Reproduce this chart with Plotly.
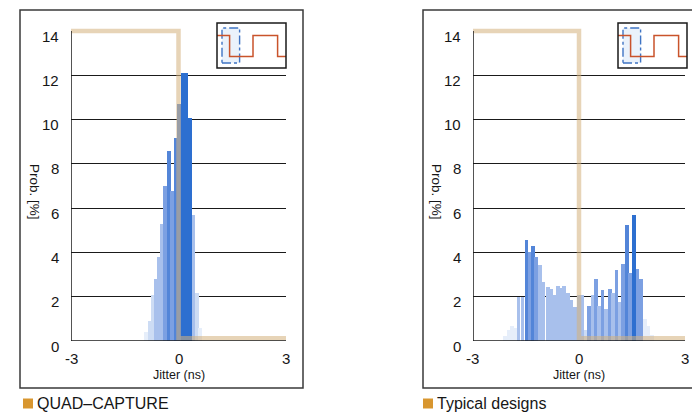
import plotly.graph_objects as go

# ---------------- data ----------------
DARK = "#2d6fd0"
MED = "#5385d8"
MEDL = "#7ca0e2"
LIGHT = "#a8c0ec"
FAINT = "#cddcf4"
VFAINT = "#e6eefa"

# QUAD-CAPTURE jitter histogram
quad_x = [-0.90, -0.81, -0.73, -0.64, -0.56, -0.47, -0.38, -0.27, -0.18, -0.08,
          0.01, 0.12, 0.22, 0.32, 0.42, 0.51, 0.60]
quad_y = [0.4, 0.9, 2.1, 2.8, 3.8, 5.3, 7.0, 8.6, 6.8, 9.2,
          10.7, 12.1, 12.1, 10.1, 5.7, 2.2, 0.6]
quad_c = [VFAINT, FAINT, FAINT, LIGHT, LIGHT, LIGHT, MEDL, MED, MEDL, MED,
          MED, DARK, DARK, DARK, LIGHT, FAINT, VFAINT]

# Typical designs jitter histogram
typ_x = [-2.10, -2.00, -1.90, -1.80, -1.71, -1.60, -1.49, -1.40, -1.30, -1.21,
         -1.11, -1.00, -0.88, -0.78, -0.68, -0.59, -0.51, -0.42, -0.31, -0.21,
         -0.11, 0.00, 0.08, 0.20, 0.29, 0.39, 0.48, 0.57, 0.67, 0.77,
         0.87, 0.96, 1.06, 1.16, 1.25, 1.36, 1.45, 1.55, 1.65, 1.75,
         1.87, 1.97, 2.07]
typ_y = [0.25, 0.5, 0.7, 0.6, 2.0, 2.0, 4.56, 4.03, 4.3, 3.8,
         3.43, 2.68, 2.45, 2.35, 2.08, 2.5, 2.4, 2.5, 2.17, 1.85,
         1.55, 2.1, 2.08, 0.5, 1.58, 2.1, 2.83, 1.58, 2.33, 1.47,
         2.37, 2.18, 3.2, 1.78, 3.5, 5.24, 3.07, 5.69, 3.28, 2.83,
         1.0, 0.7, 0.3]
typ_c = [VFAINT, VFAINT, VFAINT, VFAINT, LIGHT, LIGHT, MED, MEDL, MED, MEDL,
         LIGHT, LIGHT, LIGHT, LIGHT, LIGHT, LIGHT, LIGHT, LIGHT, LIGHT, LIGHT,
         LIGHT, LIGHT, LIGHT, FAINT, MEDL, LIGHT, MEDL, LIGHT, MEDL, LIGHT,
         MEDL, LIGHT, MEDL, LIGHT, MEDL, MED, MEDL, DARK, MEDL, MEDL,
         VFAINT, VFAINT, VFAINT]

# threshold step (tan)
step_x = [-3, 0, 0, 3]
step_y = [14, 14, 0.12, 0.12]

y_ticks = [0, 2, 4, 6, 8, 10, 12, 14]
x_ticks = [-3, 0, 3]
grid_vals = [2, 4, 6, 8, 10, 12]
panel_names = ["QUAD\u2013CAPTURE", "Typical designs"]

# ---------------- figure ----------------
W, H = 692, 412
def PX(px):
    return px / W
def PY(py):
    return 1 - py / H

FONT = "Arial, Liberation Sans, sans-serif"
TXT = "#161616"
BAR_W = 0.1
STEP_COLOR = "rgba(212,176,124,0.55)"

fig = go.Figure()

panels = [
    dict(xa="x", ya="y", bx=quad_x, by=quad_y, bc=quad_c),
    dict(xa="x2", ya="y2", bx=typ_x, by=typ_y, bc=typ_c),
]
for p in panels:
    fig.add_trace(go.Bar(x=p["bx"], y=p["by"], width=BAR_W,
                         marker=dict(color=p["bc"], line=dict(width=0)),
                         xaxis=p["xa"], yaxis=p["ya"], showlegend=False,
                         hoverinfo="x+y"))
    fig.add_trace(go.Scatter(x=step_x, y=step_y, mode="lines",
                             line=dict(color=STEP_COLOR, width=4.5),
                             xaxis=p["xa"], yaxis=p["ya"], showlegend=False,
                             hoverinfo="skip"))

y_domain = [PY(341), PY(341 - 14.6 * (310 / 14))]
x_domains = [[PX(71), PX(286)], [PX(473), PX(685)]]

common_x = dict(range=[-3, 3], showgrid=False, zeroline=False,
                showticklabels=False, showline=False, ticks="", fixedrange=True)
common_y = dict(range=[0, 14.6], tickvals=grid_vals, showgrid=True,
                gridcolor="#1a1a1a", gridwidth=1.3, zeroline=False,
                showticklabels=False, showline=False, ticks="", fixedrange=True)

fig.update_layout(
    width=W, height=H,
    margin=dict(l=0, r=0, t=0, b=0),
    paper_bgcolor="white", plot_bgcolor="rgba(0,0,0,0)",
    barmode="overlay", bargap=0,
    xaxis=dict(domain=x_domains[0], **common_x),
    yaxis=dict(domain=y_domain, anchor="x", **common_y),
    xaxis2=dict(domain=x_domains[1], anchor="y2", **common_x),
    yaxis2=dict(domain=y_domain, anchor="x2", **common_y),
    font=dict(family=FONT, color=TXT),
)

shapes = []
annotations = []
panel_boxes = [(20, 303), (423, 720)]
insets = [217, 618]
legend_x = [23, 423]

for i, (xa, ya) in enumerate([("x", "y"), ("x2", "y2")]):
    # axis lines
    shapes.append(dict(type="line", xref=xa, yref=ya, x0=-3, x1=-3, y0=0, y1=14,
                       line=dict(color="#1a1a1a", width=1.5), layer="above"))
    shapes.append(dict(type="line", xref=xa, yref=ya, x0=-3, x1=3, y0=0, y1=0,
                       line=dict(color="#1a1a1a", width=1.5), layer="above"))
    # y tick labels
    for v in y_ticks:
        annotations.append(dict(x=-3, y=v, xref=xa, yref=ya, text=str(v),
                                showarrow=False, xanchor="right", yanchor="middle",
                                xshift=-10, yshift=-5,
                                font=dict(size=15, color=TXT, family=FONT)))
    # x tick labels
    for v in x_ticks:
        annotations.append(dict(x=v, y=0, xref=xa, yref=ya, text=str(v),
                                showarrow=False, xanchor="center", yanchor="middle",
                                yshift=-17,
                                font=dict(size=15, color=TXT, family=FONT)))
    annotations.append(dict(x=0, y=0, xref=xa, yref=ya, text="Jitter (ns)",
                            showarrow=False, xanchor="center", yanchor="middle",
                            yshift=-34, font=dict(size=12.5, color=TXT, family=FONT)))
    # y axis title
    title_x = 35 if i == 0 else 437
    annotations.append(dict(x=PX(title_x), y=PY(192), xref="paper", yref="paper",
                            text="Prob. [%]", textangle=90, showarrow=False,
                            xanchor="center", yanchor="middle",
                            font=dict(size=13.5, color=TXT, family=FONT)))
    # outer box
    bx0, bx1 = panel_boxes[i]
    shapes.append(dict(type="rect", xref="paper", yref="paper",
                       x0=PX(bx0), x1=PX(bx1), y0=PY(388), y1=PY(10),
                       line=dict(color="#3a3a3a", width=1.5), layer="above"))
    # inset
    ix = insets[i]
    iy = 23
    shapes.append(dict(type="rect", xref="paper", yref="paper",
                       x0=PX(ix + 5), x1=PX(ix + 22.6), y0=PY(iy + 40), y1=PY(iy + 5),
                       fillcolor="rgba(225,236,250,0.7)",
                       line=dict(color="#3f74c4", width=1.4, dash="dashdot"),
                       layer="above"))
    wave = [(0, 12.4), (12.6, 12.4), (12.6, 33.4), (36, 33.4), (36, 12.4),
            (60.6, 12.4), (60.6, 33.4), (69, 33.4)]
    path = "M " + " L ".join(f"{PX(ix + a):.5f},{PY(iy + b):.5f}" for a, b in wave)
    shapes.append(dict(type="path", xref="paper", yref="paper", path=path,
                       line=dict(color="#c9532b", width=1.5), layer="above"))
    shapes.append(dict(type="rect", xref="paper", yref="paper",
                       x0=PX(ix), x1=PX(ix + 69), y0=PY(iy + 45), y1=PY(iy),
                       line=dict(color="#1a1a1a", width=1.5), layer="above"))
    # legend square + name
    lx = legend_x[i]
    shapes.append(dict(type="rect", xref="paper", yref="paper",
                       x0=PX(lx), x1=PX(lx + 10), y0=PY(408.5), y1=PY(398.5),
                       fillcolor="#d8962f", line=dict(width=0)))
    annotations.append(dict(x=PX(lx + 12), y=PY(403.5), xref="paper", yref="paper",
                            text=panel_names[i], showarrow=False,
                            xanchor="left", yanchor="middle",
                            font=dict(size=16, color=TXT, family=FONT)))

fig.update_layout(shapes=shapes, annotations=annotations)
fig.write_html("out.html",
               config={"displayModeBar": False},
               post_script="document.body.style.margin='0';"
                           "document.body.style.overflow='hidden';")
